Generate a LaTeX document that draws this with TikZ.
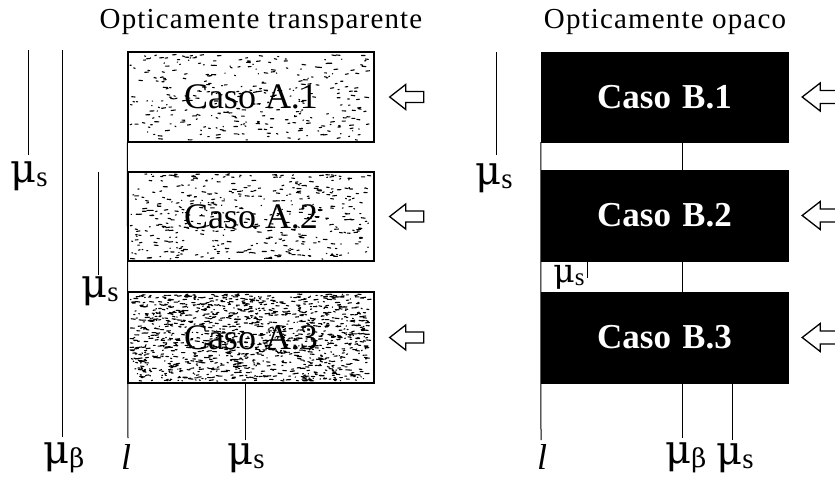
\documentclass[tikz,border=0pt]{standalone}
\usepackage{fontspec}
\setmainfont{Liberation Serif}
\newfontfamily\titlefont[LetterSpace=4]{Liberation Serif}
\newfontfamily\greekfont{DejaVu Serif}
\usetikzlibrary{calc}
\newcommand\mulabel[1]{{\greekfont\fontsize{40}{44}\selectfont μ}\raisebox{-4pt}{\fontsize{29}{31}\selectfont #1}}
\newcommand\mulabelb{{\greekfont\fontsize{40}{44}\selectfont μ}\raisebox{-4pt}{\greekfont\fontsize{26}{28}\selectfont β}}
\newcommand\mulabelsmall[1]{{\greekfont\fontsize{33}{36}\selectfont μ}\raisebox{-3pt}{\fontsize{25}{27}\selectfont #1}}
\newcommand\specks[5]{%
  \path[speck] \foreach \i in {1,...,#5}{ ({#1+2+(#3-8)*rnd},{#2+2+(#4-4)*rnd}) -- ++({0.3+4*rnd},{1.2*rnd-0.6}) };}
\begin{document}
\begin{tikzpicture}[x=1pt,y=-1pt,
  tick/.style={line width=1pt},
  abox/.style={draw, line width=1.4pt, minimum width=246pt, inner sep=0pt, font=\fontsize{36}{40}\selectfont},
  bbox/.style={fill=black, draw=black, minimum width=247pt, inner sep=0pt, text=white, font=\fontsize{35}{40}\selectfont\bfseries},
  lbl/.style={inner sep=0pt},
  title/.style={anchor=base, inner sep=0pt, font=\titlefont\fontsize{29}{31}\selectfont},
  harrow/.style={draw, line width=1.3pt, fill=white, line join=miter},
  speck/.style={draw, line width=1.1pt, line cap=round}]
\clip (0,0) rectangle (835,477);
\fill[white] (0,0) rectangle (835,477);
\pgfmathsetseed{7}

% ---------- titles ----------
\node[title] (t1) at (261,28) {Opticamente transparente};
\node[title] (t2) at (665,28) {Opticamente opaco};

% ---------- left: textured boxes ----------
\specks{128}{52}{246}{90}{340}
\specks{128}{172}{246}{89}{460}
\specks{128}{292}{246}{91}{1300}
\node[abox, minimum height=90pt] (A1) at (251,97) {Caso A.1};
\node[abox, minimum height=89pt] (A2) at (251,216.5) {Caso A.2};
\node[abox, minimum height=91pt] (A3) at (251,337.5) {Caso A.3};

% left markers
\coordinate (ms1t) at (28,50);  \coordinate (ms1b) at (28,155);
\coordinate (mbt) at (62,50);   \coordinate (mbb) at (62,437);
\coordinate (ms2t) at (98,172); \coordinate (ms2b) at (98,275);
\coordinate (lAb) at (128,438);
\coordinate (ms3b) at (245,440);
\draw[tick] (ms1t) -- (ms1b);
\draw[tick] (mbt) -- (mbb);
\draw[tick] (ms2t) -- (ms2b);
\draw[tick] (A1.south west) -- (lAb);
\draw[tick] (A3.south west -| ms3b) -- (ms3b);
\node[lbl] (Lms1) at (29,176) {\mulabel{s}};
\node[lbl] (Lms2) at (100,291) {\mulabel{s}};
\node[lbl] (Lmb) at (64,458) {\mulabelb};
\node[lbl, font=\fontsize{36}{38}\selectfont\itshape] (Ll) at (126,457) {l};
\node[lbl] (Lms3) at (246,458) {\mulabel{s}};

% left arrows
\foreach \b in {A1,A2,A3}{
  \draw[harrow] ($(\b.east)+(15,0)$) -- ++(16,-12.5) -- ++(0,7) -- ++(18,0) -- ++(0,11) -- ++(-18,0) -- ++(0,7) -- cycle;
}

% ---------- right: opaque boxes ----------
\node[bbox, minimum height=90pt] (B1) at (664.5,97) {Caso\hspace{0.32em}B.1};
\node[bbox, minimum height=91pt] (B2) at (664.5,215.5) {Caso\hspace{0.32em}B.2};
\node[bbox, minimum height=91pt] (B3) at (664.5,337.5) {Caso\hspace{0.32em}B.3};

\coordinate (rmst) at (496,52); \coordinate (rmsb) at (496,155);
\coordinate (lBb) at (541,440);
\coordinate (rmbt) at (682,142); \coordinate (rmbb) at (682,438);
\coordinate (rms2t) at (732,383); \coordinate (rms2b) at (732,440);
\coordinate (gtt) at (587,261); \coordinate (gtb) at (587,278);
\draw[tick] (rmst) -- (rmsb);
\draw[tick] (B1.south west) -- (lBb);
\draw[tick] (rmbt) -- (rmbb);
\draw[tick] (rms2t) -- (rms2b);
\draw[tick] (gtt) -- (gtb);
\node[lbl] (Rms1) at (494,178) {\mulabel{s}};
\node[lbl] (Rms2) at (569,277) {\mulabelsmall{s}};
\node[lbl, font=\fontsize{36}{38}\selectfont\itshape] (Rl) at (542,457) {l};
\node[lbl] (Rmb) at (686,458) {\mulabelb};
\node[lbl] (Rms3) at (735,458) {\mulabel{s}};

% right arrows (cut off by the frame)
\foreach \b in {B1,B2,B3}{
  \draw[harrow] ($(\b.east)+(14,0)$) -- ++(18,-14) -- ++(0,7.5) -- ++(30,0) -- ++(0,13) -- ++(-30,0) -- ++(0,7.5) -- cycle;
}
\end{tikzpicture}
\end{document}
